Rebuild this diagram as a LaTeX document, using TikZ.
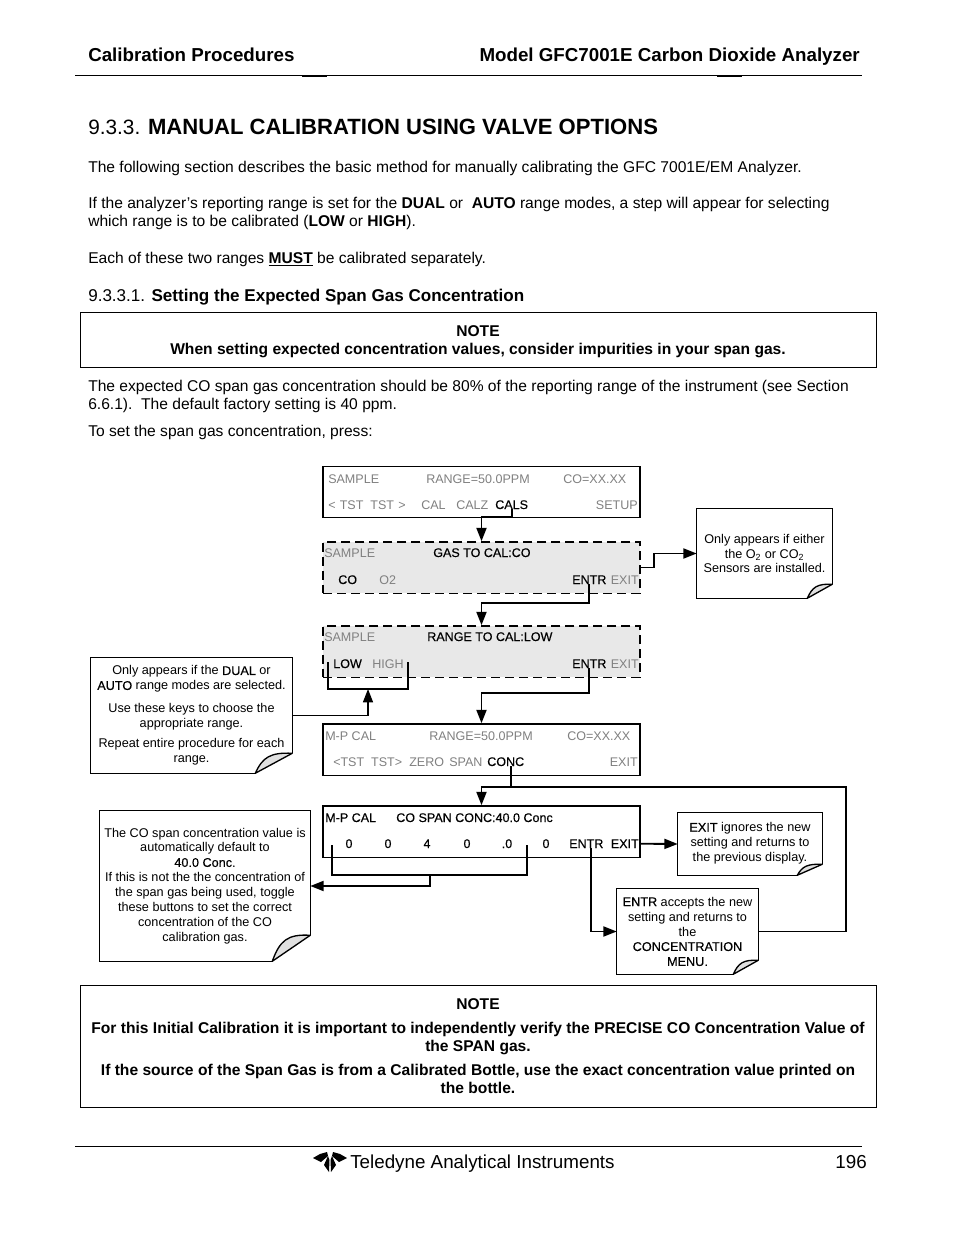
\documentclass[tikz,border=0pt]{standalone}
\usepackage{fontspec}
\setmainfont{Liberation Sans}
\newfontface\heavyface[FakeBold=0.4]{Liberation Sans}
\usetikzlibrary{arrows.meta,calc}
\definecolor{keygray}{HTML}{808080}
\definecolor{panelgray}{HTML}{E8E8E8}
\definecolor{flapgray}{HTML}{E0E0E0}
\newcommand{\headfont}{\fontsize{14.06}{16}\bfseries\selectfont}
\newcommand{\titlefont}{\fontsize{15.6}{18}\selectfont}
\newcommand{\titlebold}{\fontsize{16.55}{18}\bfseries\selectfont}
\newcommand{\subfont}{\fontsize{12.8}{15}\selectfont}
\newcommand{\bodyfont}{\fontsize{11.7}{13.5}\selectfont}
\newcommand{\footfont}{\fontsize{14.1}{16}\selectfont}
\newcommand{\keyfont}{\fontsize{9.4}{11}\selectfont}
\newcommand{\notefont}{\fontsize{9.5}{11.2}\selectfont}
\newcommand{\keyname}[1]{{\heavyface #1}}
% outline of a note with its turned-up corner
\newcommand{\foldcorner}[3]{%
  \draw[rule,line join=miter] ($(#1.south east)+(0,-#3)$) -- (#1.north east) -- (#1.north west) -- (#1.south west) -- ($(#1.south east)+(-#2,0)$);
  \draw[rule,fill=flapgray,line join=round] ($(#1.south east)+(0,-#3)$) .. controls ($(#1.south east)+(-#2*0.6,-#3*1.05)$) and ($(#1.south east)+(-#2*0.8,-#3*0.8)$) .. ($(#1.south east)+(-#2,0)$) -- cycle;}
\tikzset{
  rule/.style={line width=1pt},
  conn/.style={line width=1.4pt},
  linetxt/.style={anchor=base west,inner sep=0pt,font=\bodyfont},
  centertxt/.style={anchor=base,inner sep=0pt,font=\bodyfont\bfseries},
  screen/.style={draw,line width=1pt,minimum width=237.75pt,minimum height=38.5pt,inner sep=0pt},
  dimscreen/.style={screen,dashed,dash pattern=on 7pt off 3.5pt,fill=panelgray},
  graykey/.style={anchor=base west,inner sep=0pt,font=\keyfont,text=keygray},
  blackkey/.style={anchor=base west,inner sep=0pt,font=\heavyface\keyfont},
  notebox/.style={align=center,inner sep=0pt,font=\notefont},
  notice/.style={draw,line width=0.75pt,minimum width=597pt,inner sep=0pt}
}
\begin{document}
\begin{tikzpicture}[x=0.75pt,y=-0.75pt,>={Triangle[length=10pt,width=7.5pt]}]
  \useasboundingbox (0,0) rectangle (954,1235);
  \fill[white] (0,0) rectangle (954,1235);
  % page header
  \node[linetxt,font=\headfont] (headleft) at (88,61) {Calibration Procedures};
  \node[anchor=base east,inner sep=0pt,font=\headfont] (headright) at (860,61) {Model GFC7001E Carbon Dioxide Analyzer};
  \draw[line width=0.8pt] (75,75.5) -- (862,75.5);
  \draw[line width=1.5pt] (302,75.5) -- (327,75.5);
  \draw[line width=1.5pt] (717,75.5) -- (742,75.5);
  % section text
  \node[linetxt,font=\titlefont] (title) at (88,134) {9.3.3. {\titlebold MANUAL CALIBRATION USING VALVE OPTIONS}};
  \node[linetxt] (bodya) at (88,172) {The following section describes the basic method for manually calibrating the GFC 7001E/EM Analyzer.};
  \node[linetxt] (bodyb) at (88,208) {If the analyzer’s reporting range is set for the \textbf{DUAL} or\ \ \textbf{AUTO} range modes, a step will appear for selecting};
  \node[linetxt] (bodyc) at (88,226) {which range is to be calibrated (\textbf{LOW} or \textbf{HIGH}).};
  \node[linetxt] (bodyd) at (88,263) {Each of these two ranges \textbf{\underline{MUST}} be calibrated separately.};
  \node[linetxt,font=\subfont] (subtitle) at (88,301) {9.3.3.1. \textbf{Setting the Expected Span Gas Concentration}};
  \node[notice,minimum height=41.25pt] (noticea) at (478,339.5) {};
  \node[centertxt] (noticeah) at (478,336) {NOTE};
  \node[centertxt] (noticeat) at (478,354) {When setting expected concentration values, consider impurities in your span gas.};
  \node[linetxt] (bodye) at (88,391) {The expected CO span gas concentration should be 80\% of the reporting range of the instrument (see Section};
  \node[linetxt] (bodyf) at (88,409) {6.6.1).\ \ The default factory setting is 40 ppm.};
  \node[linetxt] (bodyg) at (88,436) {To set the span gas concentration, press:};

  % display screens
  \node[screen] (scrmain) at (481.5,492) {};
  \node[dimscreen] (scrgas) at (481.5,567.5) {};
  \node[dimscreen] (scrrange) at (481.5,651.5) {};
  \node[screen] (scrcal) at (481.5,749.5) {};
  \node[screen] (scrspan) at (481.5,831.5) {};
  % main menu keys
  \node[graykey] (sampmain) at (328,483) {SAMPLE};
  \node[graykey] (rangemain) at (426,483) {RANGE=50.0PPM};
  \node[graykey] (xxmain) at (563,483) {CO=XX.XX};
  \node[graykey] (tstmain) at (328,509) {<\,\,TST\ \ TST\,\,>};
  \node[graykey] (calmain) at (421,509) {CAL};
  \node[graykey] (calzmain) at (456,509) {CALZ};
  \node[blackkey] (calskey) at (495,509) {CALS};
  \node[graykey,anchor=base east] (setupmain) at (638,509) {SETUP};
  % gas screen keys
  \node[graykey] (sampgas) at (324,557) {SAMPLE};
  \node[blackkey] (gastxt) at (433,557) {GAS TO CAL:CO};
  \node[blackkey] (cokey) at (338,584) {CO};
  \node[graykey] (otwokey) at (379,584) {O2};
  \node[blackkey] (entrgas) at (572,584) {ENTR};
  \node[graykey,anchor=base east] (exitgas) at (639,584) {EXIT};
  % range screen keys
  \node[graykey] (samprange) at (324,641) {SAMPLE};
  \node[blackkey] (rangetxt) at (427,641) {RANGE TO CAL:LOW};
  \node[blackkey] (lowkey) at (333,668) {LOW};
  \node[graykey] (highkey) at (372,668) {HIGH};
  \node[blackkey] (entrrange) at (572,668) {ENTR};
  \node[graykey,anchor=base east] (exitrange) at (639,668) {EXIT};
  % calibration menu keys
  \node[graykey] (mpcal) at (325,740) {M-P CAL};
  \node[graykey] (rangecal) at (429,740) {RANGE=50.0PPM};
  \node[graykey] (xxcal) at (567,740) {CO=XX.XX};
  \node[graykey] (tstcal) at (333,766) {<TST\ \ TST>};
  \node[graykey] (zerocal) at (409,766) {ZERO};
  \node[graykey] (spancal) at (449,766) {SPAN};
  \node[blackkey] (conckey) at (487,766) {CONC};
  \node[graykey,anchor=base east] (exitcal) at (638,766) {EXIT};
  % span entry keys
  \node[blackkey] (mpspan) at (325,822) {M-P CAL};
  \node[blackkey] (spantxt) at (396,822) {CO SPAN CONC:40.0 Conc};
  \node[blackkey,anchor=base] (digita) at (349,848) {0};
  \node[blackkey,anchor=base] (digitb) at (388,848) {0};
  \node[blackkey,anchor=base] (digitc) at (427,848) {4};
  \node[blackkey,anchor=base] (digitd) at (467,848) {0};
  \node[blackkey,anchor=base] (digite) at (507,848) {.0};
  \node[blackkey,anchor=base] (digitf) at (546,848) {0};
  \node[blackkey] (entrspan) at (569,848) {ENTR};
  \node[blackkey,anchor=base east] (exitspan) at (639,848) {EXIT};

  % notes
  \node[notebox,minimum width=101.25pt,minimum height=66.75pt] (noteotwo) at (764.5,553.5) {Only appears if either\\the O\textsubscript{2} or CO\textsubscript{2}\\Sensors are installed.};
  \node[notebox,minimum width=150.75pt,minimum height=86.25pt] (notedual) at (191.5,715.5) {Only appears if the \keyname{DUAL} or\\\keyname{AUTO} range modes are selected.\\[5.5pt]Use these keys to choose the\\appropriate range.\\[4.2pt]Repeat entire procedure for each\\range.};
  \node[notebox,minimum width=157.5pt,minimum height=112.5pt] (notespan) at (205,886) {The CO span concentration value is\\automatically default to\\\keyname{40.0 Conc.}\\If this is not the the concentration of\\the span gas being used, toggle\\these buttons to set the correct\\concentration of the CO\\calibration gas.};
  \node[notebox,minimum width=108pt,minimum height=46.5pt] (noteexit) at (750,844) {\keyname{EXIT} ignores the new\\setting and returns to\\the previous display.\\[-8.3pt]\mbox{}};
  \node[notebox,minimum width=105.75pt,minimum height=63.75pt] (noteentr) at (687.5,931.5) {\keyname{ENTR} accepts the new\\setting and returns to\\the\\\keyname{CONCENTRATION}\\\keyname{MENU.}};
  \foldcorner{noteotwo}{25}{14}
  \foldcorner{notedual}{37}{20}
  \foldcorner{notespan}{38}{26}
  \foldcorner{noteexit}{25}{11}
  \foldcorner{noteentr}{25}{14}

  % connectors between screens
  \draw[conn,->] (calskey.south) -- ++(0,8) -| (scrgas.north);
  \draw[conn] (scrgas.east) -- ++(13,0) coordinate (gasbend);
  \draw[conn,->] (gasbend) |- (noteotwo.west);
  \draw[conn,->] (entrgas.south) -- ++(0,19) -| (scrrange.north);
  \draw[conn,->] (entrrange.south) -- ++(0,24.5) -| (scrcal.north);
  % range key bracket
  \coordinate (lowtip) at (328,662);
  \coordinate (hightip) at (408,662);
  \coordinate (lowmid) at (368,689);
  \draw[conn] (lowtip) |- (lowmid) -| (hightip);
  \draw[rule,->] (notedual.east) -| (lowmid);
  % return from the span screen
  \coordinate (retcorner) at (846,787);
  \draw[conn] ([xshift=3.75pt]conckey.south) -- ([xshift=3.75pt]conckey.south |- retcorner);
  \draw[conn,->] (noteentr.east) -| (retcorner) -| (scrspan.north);
  \draw[conn,->] (exitspan.east) -- (noteexit.west);
  \draw[conn,->] ([xshift=3.5pt]entrspan.south) |- (noteentr.west);
  % digit key bracket
  \coordinate (digitl) at (332,845);
  \coordinate (digitr) at (527,845);
  \coordinate (digitmid) at (430,875);
  \draw[conn] (digitl) |- (digitmid) -| (digitr);
  \draw[conn,->] (digitmid) |- (notespan.east);

  % closing note
  \node[notice,minimum height=91.5pt] (noticeb) at (478,1046) {};
  \node[centertxt] (noticebh) at (478,1009) {NOTE};
  \node[centertxt] (noticeba) at (478,1033) {For this Initial Calibration it is important to independently verify the PRECISE CO Concentration Value of};
  \node[centertxt] (noticebb) at (478,1051) {the SPAN gas.};
  \node[centertxt] (noticebc) at (478,1075) {If the source of the Span Gas is from a Calibrated Bottle, use the exact concentration value printed on};
  \node[centertxt] (noticebd) at (478,1093) {the bottle.};

  % page footer
  \draw[line width=0.9pt] (75,1146.5) -- (862,1146.5);
  \fill (313,1158) -- (320,1154) -- (327,1152) -- (328,1156) -- (321,1162) -- cycle;
  \fill (347,1158) -- (340,1154) -- (333,1152) -- (332,1156) -- (339,1162) -- cycle;
  \fill (328,1156) -- (329.5,1160) -- (329,1172) -- (324,1165) -- cycle;
  \fill (332,1156) -- (330.5,1160) -- (331,1172) -- (336,1165) -- cycle;
  \node[linetxt,font=\footfont] (footer) at (350,1168) {Teledyne Analytical Instruments};
  \node[anchor=base east,inner sep=0pt,font=\footfont] (pagenum) at (867,1168) {196};
\end{tikzpicture}
\end{document}
